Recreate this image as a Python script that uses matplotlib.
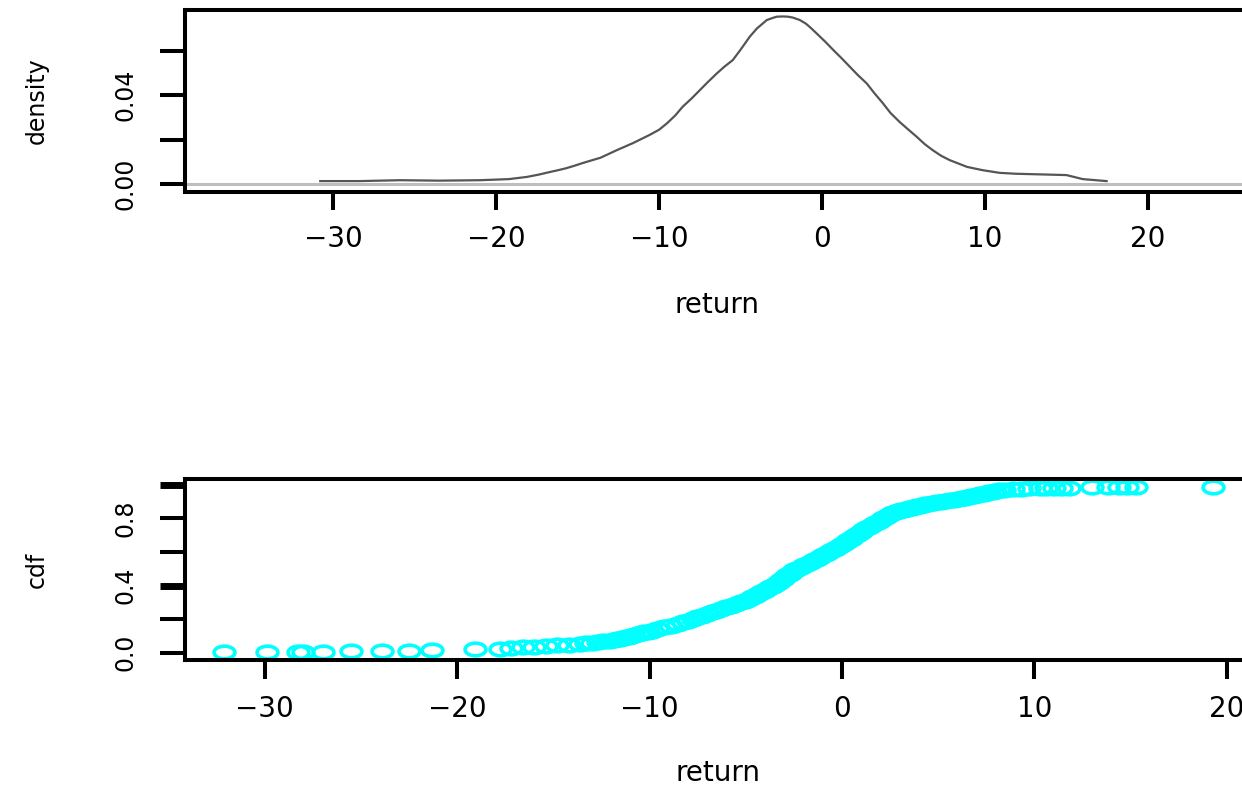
import matplotlib
matplotlib.use('Agg')
import matplotlib.pyplot as plt
from matplotlib.path import Path
from matplotlib.transforms import Affine2D

# density curve
density_x = [-30.8, -28.4, -25.9, -23.5, -21.0, -19.2, -18.1, -17.4, -16.7, -16.2,
             -15.7, -15.2, -14.7, -14.2, -13.6, -12.6, -12.1, -11.6, -11.1, -10.6,
             -10.0, -9.5, -9.0, -8.56, -8.0, -7.5, -7.0, -6.46, -6.0, -5.48,
             -5.0, -4.44, -4.0, -3.39, -3.0, -2.78, -2.41, -2.1, -1.80, -1.37,
             -1.0, -0.7, -0.34, 0.2, 0.69, 1.2, 1.70, 2.2, 2.74, 3.2,
             3.72, 4.2, 4.77, 5.3, 5.81, 6.3, 6.79, 7.3, 7.84, 8.4,
             8.89, 9.4, 9.86, 10.9, 11.9, 12.93, 14.0, 15.0, 15.5, 15.99, 17.46]
density_y = [0.0014, 0.0014, 0.0018, 0.0016, 0.0018, 0.0023, 0.0033, 0.0043, 0.0055, 0.0063,
             0.0072, 0.0083, 0.0095, 0.0106, 0.0119, 0.0153, 0.0169, 0.0185, 0.0203, 0.0221,
             0.0245, 0.0275, 0.0310, 0.0348, 0.0386, 0.0423, 0.0460, 0.0498, 0.0528, 0.0558,
             0.0605, 0.0663, 0.0700, 0.0738, 0.0748, 0.0753, 0.0754, 0.0753, 0.0749, 0.0738,
             0.0722, 0.0703, 0.0678, 0.0640, 0.0603, 0.0566, 0.0528, 0.0490, 0.0453, 0.0410,
             0.0365, 0.0320, 0.0279, 0.0245, 0.0213, 0.0180, 0.0153, 0.0128, 0.0108, 0.0092,
             0.0078, 0.0070, 0.0063, 0.0051, 0.0047, 0.0045, 0.0043, 0.0041, 0.0032, 0.0023, 0.0014]

# cdf points
cdf_x = [-32.1, -29.9, -28.3, -28.0, -27.0, -25.5, -23.9, -22.5, -21.3, -19.1, -17.8,
         -17.2, -16.6, -16.0, -15.4, -14.8, -14.2, -13.6, -13.3, -13.0, -12.7,
         -12.4, -12.1, -11.85, -11.7, -11.55, -11.4, -11.25, -11.1, -10.95, -10.8,
         -10.6, -10.45, -10.3, -10.1, -9.9, -9.6, -9.25, -8.9, -8.55, -8.27,
         -8.0, -7.77, -7.52, -7.28, -7.03, -6.78, -6.53, -6.28, -6.03, -5.78,
         -5.52, -5.27, -5.02, -4.83, -4.68, -4.52, -4.37, -4.22, -4.06, -3.91,
         -3.76, -3.61, -3.45, -3.30, -3.19, -3.07, -2.96, -2.84, -2.73, -2.61,
         -2.50, -2.33, -2.15, -1.98, -1.81, -1.63, -1.46, -1.31, -1.15, -1.00,
         -0.85, -0.69, -0.54, -0.39, -0.23, -0.08, 0.06, 0.19, 0.32, 0.45,
         0.58, 0.70, 0.83, 0.96, 1.11, 1.26, 1.40, 1.55, 1.70, 1.85,
         2.00, 2.14, 2.29, 2.44, 2.59, 2.79, 2.93, 3.07, 3.21, 3.35,
         3.49, 3.62, 3.76, 3.90, 4.04, 4.18, 4.32, 4.48, 4.70, 4.92,
         5.15, 5.37, 5.60, 5.82, 6.04, 6.24, 6.40, 6.56, 6.71, 6.87,
         7.03, 7.19, 7.35, 7.50, 7.66, 7.82, 7.95, 8.15, 8.4, 8.9,
         9.3, 9.7, 10.3, 10.6, 11.0, 11.4, 11.8, 13.0, 13.8, 14.4,
         14.8, 15.3, 19.3]
cdf_y = [0.002, 0.003, 0.004, 0.005, 0.006, 0.007, 0.009, 0.012, 0.018, 0.022, 0.020,
         0.028, 0.032, 0.036, 0.040, 0.044, 0.048, 0.052, 0.056, 0.060, 0.064,
         0.068, 0.072, 0.076, 0.080, 0.084, 0.088, 0.092, 0.096, 0.100, 0.105,
         0.110, 0.115, 0.120, 0.125, 0.130, 0.140, 0.150, 0.160, 0.170, 0.180,
         0.190, 0.200, 0.210, 0.220, 0.230, 0.240, 0.250, 0.260, 0.270, 0.280,
         0.290, 0.300, 0.310, 0.320, 0.330, 0.340, 0.350, 0.360, 0.370, 0.380,
         0.390, 0.400, 0.410, 0.420, 0.430, 0.440, 0.450, 0.460, 0.470, 0.480,
         0.490, 0.500, 0.510, 0.520, 0.530, 0.540, 0.550, 0.560, 0.570, 0.580,
         0.590, 0.600, 0.610, 0.620, 0.630, 0.640, 0.650, 0.660, 0.670, 0.680,
         0.690, 0.700, 0.710, 0.720, 0.730, 0.740, 0.750, 0.760, 0.770, 0.780,
         0.790, 0.800, 0.810, 0.820, 0.830, 0.840, 0.844, 0.848, 0.852, 0.856,
         0.860, 0.864, 0.868, 0.872, 0.876, 0.880, 0.884, 0.888, 0.892, 0.896,
         0.900, 0.904, 0.908, 0.912, 0.916, 0.920, 0.924, 0.928, 0.932, 0.936,
         0.940, 0.944, 0.948, 0.952, 0.956, 0.960, 0.964, 0.968, 0.972, 0.975,
         0.977, 0.979, 0.980, 0.981, 0.982, 0.983, 0.984, 0.985, 0.986, 0.987,
         0.987, 0.988, 0.988]

x_ticks = [-30, -20, -10, 0, 10, 20]
x_ticklabels = ['\u221230', '\u221220', '\u221210', '0', '10', '20']
density_ticks = [0.0, 0.02, 0.04, 0.06]
density_ticklabels = ['0.00', '', '0.04', '']
cdf_ticks = [0.0, 0.2, 0.4, 0.6, 0.8, 1.0]
cdf_ticklabels = ['0.0', '', '0.4', '', '0.8', '']

W, H = 1242, 785
SPINE_W = 2.9


def style_axes(ax, xtick_len):
    for side in ['left', 'top', 'right', 'bottom']:
        ax.spines[side].set_linewidth(SPINE_W)
    ax.tick_params(axis='x', length=xtick_len, width=SPINE_W, pad=11, labelsize=20)
    ax.tick_params(axis='y', length=18, width=SPINE_W, pad=16, labelsize=17,
                   labelrotation=90)
    for lab in ax.get_yticklabels():
        lab.set_va('center')


def plot_density(fig):
    ax = fig.add_axes([185 / W, 1 - 192 / H, (1249 - 185) / W, 182 / H])
    ax.axhline(0, color='#bebebe', lw=2.2, zorder=1)
    ax.plot(density_x, density_y, color='#555555', lw=1.6, zorder=2,
            solid_joinstyle='round')
    ax.set_xlim(-39.1, 26.2)
    ax.set_ylim(-0.0035, 0.0783)
    ax.set_xticks(x_ticks)
    ax.set_xticklabels(x_ticklabels)
    ax.set_yticks(density_ticks)
    ax.set_yticklabels(density_ticklabels)
    style_axes(ax, 13)
    ax.set_xlabel('return', fontsize=20, va='top')
    ax.xaxis.set_label_coords(0.5, -0.545)
    ax.set_ylabel('density', fontsize=17)
    ax.yaxis.set_label_coords(-0.128, 0.5)
    return ax


def plot_cdf(fig):
    ax = fig.add_axes([185 / W, 1 - 660 / H, (1250 - 185) / W, 181 / H])
    # the reference circles are squashed, so use an ellipse marker
    ellipse = Path.unit_circle().transformed(Affine2D().scale(1.65, 1.0))
    ax.plot(cdf_x, cdf_y, ls='none', marker=ellipse, markersize=15,
            markerfacecolor='none', markeredgecolor='#00ffff', markeredgewidth=2.6)
    ax.set_xlim(-34.15, 21.2)
    ax.set_ylim(-0.044, 1.035)
    ax.set_xticks(x_ticks)
    ax.set_xticklabels(x_ticklabels)
    ax.set_yticks(cdf_ticks)
    ax.set_yticklabels(cdf_ticklabels)
    style_axes(ax, 14)
    # ticks at 0.4 and 1.0 look heavier in the reference
    yt = ax.yaxis.get_major_ticks()
    yt[2].tick1line.set_markeredgewidth(5.0)
    yt[5].tick1line.set_markeredgewidth(5.0)
    ax.set_xlabel('return', fontsize=20, va='top')
    ax.xaxis.set_label_coords(0.5, -0.547)
    ax.set_ylabel('cdf', fontsize=17)
    ax.yaxis.set_label_coords(-0.128, 0.5)
    return ax


if __name__ == '__main__':
    fig = plt.figure(figsize=(W / 100, H / 100), dpi=100)
    plot_density(fig)
    plot_cdf(fig)
    fig.savefig('out.png', dpi=100)
